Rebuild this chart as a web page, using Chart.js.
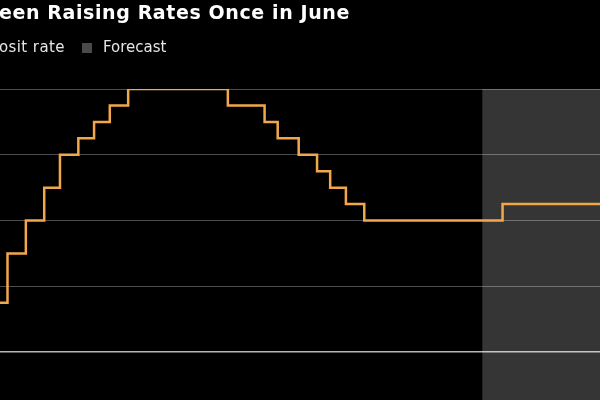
<!DOCTYPE html>
<html>
<head>
<meta charset="utf-8">
<script src="https://cdn.jsdelivr.net/npm/chart.js@4"></script>
<style>
  html, body { margin: 0; padding: 0; background: #000; }
  #wrap { width: 600px; height: 400px; position: relative; }
</style>
</head>
<body>
<div id="wrap"><canvas id="rateChart"></canvas></div>
<script>
// ECB deposit rate decisions (date the new rate took effect) and forecast
const rateDates = ["2022-07-27", "2022-09-14", "2022-11-02", "2022-12-21", "2023-02-08", "2023-03-22",
  "2023-05-10", "2023-06-21", "2023-08-02", "2023-09-20", "2024-06-12", "2024-09-18", "2024-10-23",
  "2024-12-18", "2025-02-05", "2025-03-12", "2025-04-23", "2025-06-11", "2026-06-15", "2027-06-01"];
const rateValues = [0.0, 0.75, 1.5, 2.0, 2.5, 3.0, 3.25, 3.5, 3.75, 4.0, 3.75, 3.5, 3.25,
  3.0, 2.75, 2.5, 2.25, 2.0, 2.25, 2.25];
const forecastStart = "2026-04-22";
const yTicks = [0, 1, 2, 3, 4];
const viewStart = "2022-10-13";
const viewEnd = "2027-03-02";

const day = (s) => Date.parse(s + "T00:00:00Z");
const points = rateDates.map((d, i) => ({ x: day(d), y: rateValues[i] }));

// background, forecast shading (under the grid) and the cropped header texts
const decor = {
  id: "decor",
  beforeDraw(chart) {
    const { ctx, chartArea, scales } = chart;
    ctx.save();
    ctx.fillStyle = "#000";
    ctx.fillRect(0, 0, chart.width, chart.height);
    const x0 = scales.x.getPixelForValue(day(forecastStart));
    ctx.fillStyle = "#353535";
    ctx.fillRect(x0, chartArea.top, chartArea.right - x0, chartArea.bottom - chartArea.top);
    ctx.restore();
  },
  afterDraw(chart) {
    const { ctx } = chart;
    ctx.save();
    ctx.fillStyle = "#fff";
    ctx.font = "bold 19px 'DejaVu Sans'";
    ctx.letterSpacing = "0.6px";
    ctx.textBaseline = "alphabetic";
    ctx.fillText("een Raising Rates Once in June", -1, 19);
    ctx.font = "15px 'DejaVu Sans'";
    ctx.letterSpacing = "0.4px";
    ctx.fillStyle = "#e6e6e6";
    ctx.fillText("osit rate", -1, 52);
    ctx.fillStyle = "#4a4a4a";
    ctx.fillRect(82, 43, 10, 10);
    ctx.fillStyle = "#e6e6e6";
    ctx.letterSpacing = "0px";
    ctx.fillText("Forecast", 103, 52);
    ctx.restore();
  },
};

const ctx = document.getElementById("rateChart").getContext("2d");
const rateChart = new Chart(ctx, {
  type: "line",
  data: {
    datasets: [
      {
        label: "Deposit rate",
        data: points,
        borderColor: "#f2a84a",
        borderWidth: 2.5,
        stepped: true,
        pointRadius: 0,
        fill: false,
      },
    ],
  },
  options: {
    responsive: true,
    maintainAspectRatio: false,
    animation: false,
    layout: { padding: { top: 89, left: 0, right: 0, bottom: 0 } },
    scales: {
      x: {
        type: "linear",
        display: false,
        min: day(viewStart),
        max: day(viewEnd),
      },
      y: {
        min: -0.73,
        max: 4,
        afterBuildTicks: (scale) => {
          scale.ticks = yTicks.map((v) => ({ value: v }));
        },
        ticks: { display: false },
        border: { display: false },
        grid: {
          drawTicks: false,
          lineWidth: (c) => (c.tick && c.tick.value === 0 ? 1.5 : 1),
          color: (c) => (c.tick && c.tick.value === 0 ? "rgba(255,255,255,0.72)" : "rgba(255,255,255,0.3)"),
        },
      },
    },
    plugins: {
      legend: { display: false },
      tooltip: { enabled: false },
    },
  },
  plugins: [decor],
});
</script>
</body>
</html>
